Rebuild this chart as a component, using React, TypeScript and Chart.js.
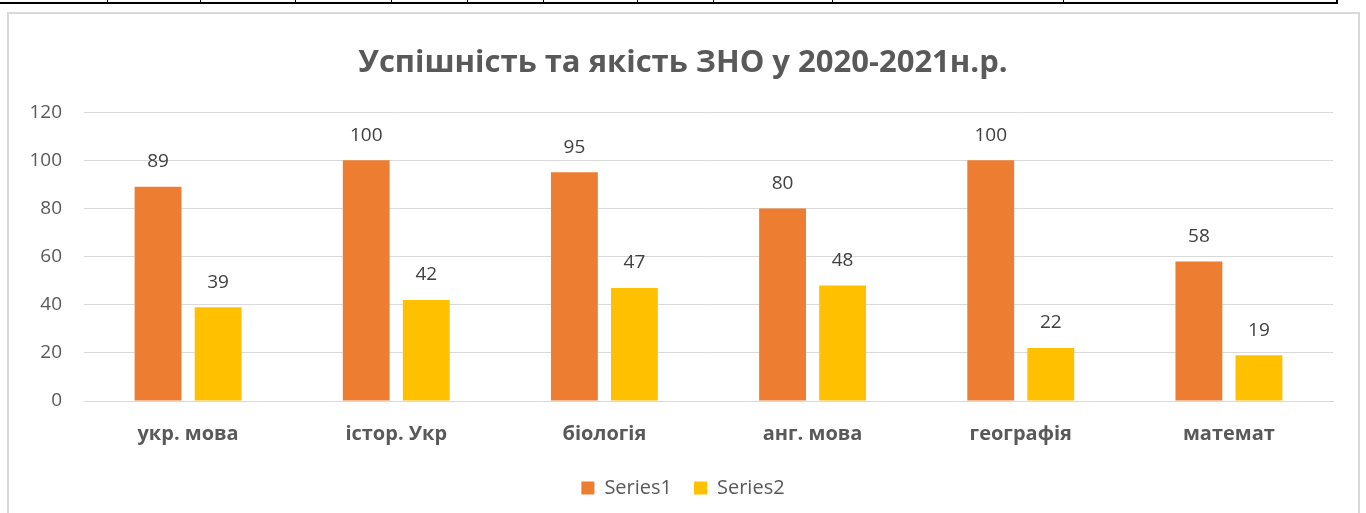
import React, { useEffect, useRef } from "react";
import { Chart, registerables } from "chart.js";

Chart.register(...registerables);

const categories = ["укр. мова", "істор. Укр", "біологія", "анг. мова", "географія", "математ"];
const series1 = [89, 100, 95, 80, 100, 58];
const series2 = [39, 42, 47, 48, 22, 19];
const seriesNames = ["Series1", "Series2"];
const yTicks = [0, 20, 40, 60, 80, 100, 120];
const titleText = "Успішність та якість ЗНО у 2020-2021н.р.";
const tableColumnEdges = [107, 200, 295, 391, 467, 543, 637, 713, 832, 1063];

const FONT = "'Open Sans', 'Noto Sans', sans-serif";

const valueLabels = {
  id: "valueLabels",
  afterDatasetsDraw(chart: any) {
    const ctx = chart.ctx;
    ctx.save();
    ctx.font = `19px ${FONT}`;
    ctx.fillStyle = "#404040";
    ctx.textAlign = "center";
    ctx.textBaseline = "middle";
    chart.data.datasets.forEach((ds: any, i: number) => {
      const meta = chart.getDatasetMeta(i);
      meta.data.forEach((el: any, j: number) => {
        ctx.fillText(String(ds.data[j]), el.x, el.y - 25);
      });
    });
    ctx.restore();
  },
};

export default function App() {
  const ref = useRef<HTMLCanvasElement | null>(null);
  useEffect(() => {
    if (!ref.current) return;
    const chart = new Chart(ref.current, {
      type: "bar",
      data: {
        labels: categories,
        datasets: [
          { label: seriesNames[0], data: series1, backgroundColor: "#ED7D31", categoryPercentage: 0.577, barPercentage: 0.78 },
          { label: seriesNames[1], data: series2, backgroundColor: "#FFC000", categoryPercentage: 0.577, barPercentage: 0.78 },
        ],
      },
      options: {
        responsive: false,
        animation: false,
        layout: { padding: { left: 0, right: 0, top: 45, bottom: 5 } },
        plugins: {
          title: {
            display: true,
            text: titleText,
            color: "#595959",
            font: { family: FONT, size: 31, weight: "bold" },
            padding: { top: 0, bottom: 30 },
          },
          legend: {
            position: "bottom",
            labels: {
              boxWidth: 13,
              boxHeight: 13,
              color: "#595959",
              padding: 22,
              font: { family: FONT, size: 20 },
            },
          },
          tooltip: { enabled: false },
        },
        scales: {
          x: {
            grid: { display: false, drawTicks: false },
            border: { display: true, color: "#d9d9d9", width: 1 },
            ticks: { color: "#595959", font: { family: FONT, size: 20, weight: "bold" }, padding: 21 },
            afterFit: (s: any) => { s.height = 55; },
          },
          y: {
            min: 0,
            max: 120,
            afterBuildTicks: (s: any) => { s.ticks = yTicks.map((v) => ({ value: v })); },
            grid: { color: "#d9d9d9", drawTicks: false },
            border: { display: false },
            ticks: { color: "#595959", font: { family: FONT, size: 19 }, padding: 22 },
            afterFit: (s: any) => { s.width = 84; },
          },
          yRight: {
            position: "right",
            min: 0,
            max: 120,
            grid: { display: false, drawTicks: false },
            border: { display: false },
            ticks: { display: false },
            afterFit: (s: any) => { s.width = 33; },
          },
        },
      },
      plugins: [valueLabels],
    });
    return () => chart.destroy();
  }, []);

  return (
    <div style={{ position: "absolute", left: 0, top: 0, width: 1366, height: 513, overflow: "hidden", background: "#fff" }}>
      <div style={{ position: "absolute", left: 0, top: 2, width: 1338, height: 2, background: "#000" }} />
      {tableColumnEdges.map((x) => (
        <div key={x} style={{ position: "absolute", left: x, top: 0, width: 1, height: 3, background: "#000" }} />
      ))}
      <div style={{ position: "absolute", left: 1336, top: 0, width: 2, height: 4, background: "#000" }} />
      <div style={{ position: "absolute", left: 7, top: 12, width: 1353, height: 520, border: "2px solid #d9d9d9", boxSizing: "border-box" }} />
      <canvas ref={ref} width={1366} height={513} style={{ position: "absolute", left: 0, top: 0, width: 1366, height: 513 }} />
    </div>
  );
}
